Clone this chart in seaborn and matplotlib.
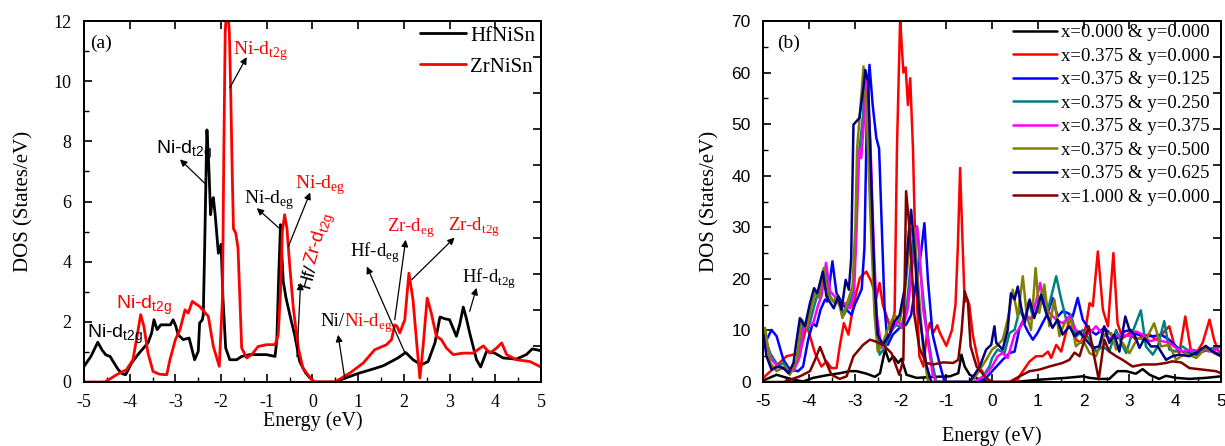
import math
import matplotlib
matplotlib.use("Agg")
import matplotlib.pyplot as plt
import pandas as pd
import seaborn as sns
from matplotlib.ticker import MultipleLocator

# ---------------- panel (a): total DOS of the two parent compounds ----------------
hfnisn_dos = [(-5.00, 0.52), (-4.85, 0.85), (-4.70, 1.32), (-4.60, 1.05), (-4.52, 0.90), (-4.43, 0.85),
              (-4.33, 0.60), (-4.25, 0.41), (-4.17, 0.28), (-4.09, 0.24), (-3.96, 0.63), (-3.80, 0.95),
              (-3.60, 1.30), (-3.52, 1.63), (-3.47, 2.07), (-3.40, 1.74), (-3.32, 1.90), (-3.20, 1.90),
              (-3.11, 1.90), (-3.05, 2.07), (-2.99, 1.85), (-2.94, 1.57), (-2.83, 1.41), (-2.70, 1.46),
              (-2.64, 1.10), (-2.58, 0.74), (-2.50, 1.02), (-2.47, 1.96), (-2.41, 2.07), (-2.39, 2.24),
              (-2.36, 4.45), (-2.32, 7.77), (-2.31, 8.38), (-2.27, 7.20), (-2.23, 5.56), (-2.20, 6.00),
              (-2.17, 6.13), (-2.13, 5.56), (-2.06, 4.28), (-2.00, 4.58), (-1.96, 2.79), (-1.90, 1.13),
              (-1.81, 0.74), (-1.66, 0.74), (-1.55, 0.85), (-1.37, 0.91), (-1.01, 0.91), (-0.82, 0.85),
              (-0.78, 1.40), (-0.74, 3.50), (-0.70, 5.23), (-0.67, 4.20), (-0.64, 3.34), (-0.58, 2.80),
              (-0.53, 2.46), (-0.46, 2.00), (-0.39, 1.57), (-0.28, 0.68), (-0.15, 0.30), (-0.06, 0.14),
              (0.05, 0.00), (0.49, 0.00), (0.75, 0.15), (1.03, 0.30), (1.30, 0.42), (1.55, 0.54),
              (1.87, 0.80), (2.04, 0.98), (2.20, 0.74), (2.38, 0.57), (2.53, 0.68), (2.68, 1.30),
              (2.79, 2.16), (2.90, 2.10), (3.00, 2.07), (3.15, 1.52), (3.22, 1.90), (3.30, 2.49),
              (3.37, 2.10), (3.44, 1.63), (3.59, 0.74), (3.68, 0.50), (3.81, 1.02), (3.99, 0.96),
              (4.17, 0.80), (4.46, 0.76), (4.68, 0.91), (4.81, 1.10), (4.97, 1.05), (5.00, 1.02)]

zrnisn_dos = [(-5.00, 0.00), (-4.54, 0.00), (-4.29, 0.24), (-4.07, 0.41), (-3.93, 0.74), (-3.84, 1.52),
              (-3.76, 2.24), (-3.69, 1.85), (-3.60, 0.96), (-3.49, 0.35), (-3.35, 0.26), (-3.19, 0.24),
              (-3.12, 0.74), (-3.00, 1.41), (-2.90, 1.74), (-2.79, 2.40), (-2.72, 2.29), (-2.63, 2.68),
              (-2.47, 2.51), (-2.28, 2.18), (-2.17, 1.18), (-2.04, 0.52), (-1.97, 2.79), (-1.94, 7.77),
              (-1.91, 11.65), (-1.87, 12.60), (-1.82, 11.65), (-1.79, 9.65), (-1.76, 7.20), (-1.73, 5.10),
              (-1.68, 4.95), (-1.63, 4.45), (-1.59, 2.79), (-1.55, 1.13), (-1.44, 0.80), (-1.33, 0.91),
              (-1.19, 1.18), (-1.01, 1.24), (-0.82, 1.24), (-0.75, 1.57), (-0.70, 3.00), (-0.66, 5.00),
              (-0.61, 5.56), (-0.56, 5.12), (-0.50, 3.90), (-0.42, 2.46), (-0.31, 1.13), (-0.21, 0.46),
              (-0.02, 0.08), (0.05, 0.00), (0.49, 0.00), (0.82, 0.30), (1.11, 0.63), (1.36, 1.07),
              (1.62, 1.24), (1.73, 1.41), (1.80, 1.90), (1.85, 1.85), (1.91, 1.63), (2.02, 2.07),
              (2.11, 3.62), (2.20, 2.73), (2.28, 1.30), (2.35, 0.13), (2.42, 1.18), (2.51, 2.79),
              (2.60, 2.29), (2.71, 1.52), (2.82, 1.41), (2.93, 1.13), (3.08, 0.91), (3.30, 0.96),
              (3.51, 0.96), (3.74, 1.20), (3.88, 0.96), (4.03, 1.13), (4.14, 1.30), (4.25, 0.91),
              (4.46, 0.74), (4.76, 0.68), (4.97, 0.52), (5.00, 0.50)]

# ---------------- panel (b): doped supercells ----------------
dos_x000_y000 = [(-5.0, 0.3), (-4.71, 1.4), (-4.56, 1.0), (-4.34, 0.45), (-4.13, 0.1), (-3.91, 0.8),
                 (-3.62, 1.3), (-3.33, 1.7), (-3.11, 2.1), (-2.96, 2.1), (-2.74, 1.6), (-2.56, 1.0),
                 (-2.45, 1.7), (-2.34, 6.3), (-2.25, 4.0), (-2.16, 5.0), (-2.05, 3.7), (-1.98, 4.5),
                 (-1.87, 1.4), (-1.65, 0.8), (-1.29, 1.0), (-0.92, 1.1), (-0.74, 1.7), (-0.67, 5.3),
                 (-0.60, 3.0), (-0.49, 1.4), (-0.27, 0.45), (0.0, 0.0), (0.49, 0.0), (1.03, 0.45),
                 (1.62, 0.8), (1.98, 1.1), (2.13, 0.8), (2.34, 0.6), (2.56, 0.6), (2.74, 2.1),
                 (2.93, 2.1), (3.14, 1.6), (3.29, 2.5), (3.44, 1.4), (3.65, 0.6), (3.80, 1.2),
                 (4.02, 0.8), (4.31, 0.6), (4.67, 0.8), (5.0, 1.1)]

dos_x375_y000 = [(-5.0, 0.8), (-4.49, 5.0), (-4.2, 5.6), (-4.05, 11.0), (-3.87, 5.6), (-3.73, 3.0),
                 (-3.62, 4.0), (-3.51, 2.7), (-3.40, 2.7), (-3.33, 6.9), (-3.24, 11.4), (-3.14, 9.2),
                 (-3.03, 15.0), (-2.89, 20.2), (-2.75, 21.4), (-2.64, 19.5), (-2.53, 16.3), (-2.46, 19.2),
                 (-2.39, 15.0), (-2.28, 12.1), (-2.21, 9.8), (-2.13, 13.7), (-2.08, 45.0), (-2.01, 70.5),
                 (-1.94, 60.0), (-1.89, 61.0), (-1.84, 53.7), (-1.79, 58.9), (-1.73, 45.3), (-1.66, 19.5),
                 (-1.59, 5.0), (-1.50, 3.0), (-1.43, 9.0), (-1.36, 11.5), (-1.29, 9.5), (-1.20, 11.0),
                 (-1.14, 9.5), (-1.0, 7.0), (-0.88, 10.0), (-0.80, 15.0), (-0.75, 26.0), (-0.70, 41.5),
                 (-0.65, 28.0), (-0.60, 15.5), (-0.54, 16.0), (-0.50, 15.0), (-0.42, 9.0), (-0.28, 3.0),
                 (-0.10, 0.3), (0.0, 0.0), (0.52, 0.0), (0.67, 2.1), (0.82, 4.0), (0.96, 5.0), (1.1, 5.0),
                 (1.22, 5.9), (1.29, 4.65), (1.40, 7.2), (1.51, 5.9), (1.62, 9.8), (1.72, 13.0), (1.83, 8.2),
                 (1.94, 7.6), (2.05, 10.8), (2.13, 15.3), (2.2, 14.7), (2.31, 25.3), (2.42, 14.0),
                 (2.53, 10.8), (2.65, 25.0), (2.74, 11.4), (2.85, 8.5), (3.0, 9.5), (3.14, 8.2), (3.29, 8.9),
                 (3.44, 9.2), (3.58, 8.2), (3.73, 9.5), (3.87, 10.8), (3.98, 7.2), (4.09, 5.6), (4.22, 12.7),
                 (4.34, 6.3), (4.49, 6.0), (4.6, 7.6), (4.75, 12.1), (4.85, 8.2), (4.96, 5.6), (5.0, 5.4)]

dos_x375_y125 = [(-5.0, 6.9), (-4.82, 10.1), (-4.71, 8.9), (-4.56, 4.3), (-4.42, 2.4), (-4.24, 2.1),
                 (-4.13, 3.0), (-4.02, 8.2), (-3.92, 11.4), (-3.84, 10.8), (-3.75, 14.0), (-3.65, 16.0),
                 (-3.60, 15.6), (-3.49, 23.4), (-3.40, 17.2), (-3.29, 15.6), (-3.18, 14.0), (-3.07, 13.0),
                 (-3.0, 15.0), (-2.85, 18.0), (-2.79, 26.0), (-2.74, 50.5), (-2.68, 61.5), (-2.61, 53.7),
                 (-2.53, 47.3), (-2.47, 45.3), (-2.42, 32.4), (-2.35, 14.3), (-2.28, 7.2), (-2.17, 9.2),
                 (-2.02, 10.5), (-1.88, 11.1), (-1.77, 13.0), (-1.66, 19.5), (-1.55, 25.3), (-1.48, 30.8),
                 (-1.40, 19.5), (-1.30, 9.2), (-1.16, 4.0), (-1.04, 0.0), (-0.30, 0.0), (-0.13, 0.8),
                 (0.0, 2.1), (0.23, 4.3), (0.38, 5.6), (0.49, 5.9), (0.6, 10.5), (0.67, 11.8), (0.78, 9.8),
                 (0.89, 8.2), (0.99, 9.5), (1.1, 11.4), (1.22, 13.4), (1.32, 16.3), (1.43, 12.7),
                 (1.54, 13.7), (1.65, 13.4), (1.76, 12.7), (1.87, 16.3), (1.98, 12.1), (2.13, 10.1),
                 (2.27, 9.2), (2.45, 10.5), (2.6, 9.2), (2.74, 8.5), (2.89, 9.8), (3.03, 10.1), (3.18, 9.2),
                 (3.36, 8.9), (3.54, 8.9), (3.69, 9.2), (3.87, 8.2), (4.02, 6.9), (4.16, 5.9), (4.31, 5.6),
                 (4.46, 5.3), (4.6, 5.9), (4.75, 6.3), (4.89, 5.6), (5.0, 5.0)]

dos_x375_y250 = [(-5.0, 9.5), (-4.85, 5.6), (-4.67, 3.0), (-4.56, 3.7), (-4.42, 1.7), (-4.24, 4.0),
                 (-4.13, 11.4), (-4.02, 10.1), (-3.91, 14.0), (-3.82, 16.9), (-3.75, 16.3), (-3.63, 21.8),
                 (-3.54, 16.6), (-3.44, 15.3), (-3.34, 16.0), (-3.24, 13.0), (-3.14, 14.7), (-3.03, 17.6),
                 (-2.97, 30.0), (-2.91, 44.0), (-2.82, 51.8), (-2.77, 59.9), (-2.69, 50.5), (-2.62, 31.1),
                 (-2.53, 11.8), (-2.46, 5.3), (-2.35, 6.6), (-2.21, 9.8), (-2.10, 11.1), (-1.99, 10.5),
                 (-1.86, 15.0), (-1.73, 27.3), (-1.64, 29.8), (-1.56, 20.8), (-1.44, 11.1), (-1.33, 4.7),
                 (-1.22, 0.0), (-0.35, 0.0), (-0.2, 1.1), (-0.06, 3.0), (0.0, 4.65), (0.12, 6.3),
                 (0.27, 5.6), (0.38, 9.5), (0.49, 10.1), (0.6, 14.0), (0.71, 12.1), (0.8, 15.6),
                 (0.89, 12.7), (0.99, 13.7), (1.1, 17.9), (1.22, 14.0), (1.32, 17.6), (1.40, 20.5),
                 (1.51, 16.0), (1.62, 12.1), (1.72, 13.0), (1.85, 8.9), (1.98, 10.1), (2.13, 8.2),
                 (2.27, 5.9), (2.42, 6.9), (2.56, 5.9), (2.71, 10.1), (2.82, 7.6), (2.93, 5.6), (3.06, 9.5),
                 (3.25, 13.9), (3.36, 6.9), (3.51, 5.3), (3.62, 6.9), (3.76, 11.8), (3.87, 6.3), (4.02, 5.9),
                 (4.16, 6.9), (4.31, 5.9), (4.49, 5.9), (4.67, 6.3), (4.85, 6.6), (5.0, 6.9)]

dos_x375_y375 = [(-5.0, 8.5), (-4.82, 4.3), (-4.64, 2.7), (-4.49, 2.4), (-4.34, 2.1), (-4.2, 5.0),
                 (-4.11, 10.8), (-4.02, 10.8), (-3.91, 11.4), (-3.80, 15.0), (-3.73, 16.6), (-3.63, 23.1),
                 (-3.54, 17.6), (-3.44, 16.6), (-3.33, 14.7), (-3.22, 15.3), (-3.11, 14.3), (-3.02, 16.6),
                 (-2.96, 30.0), (-2.91, 45.3), (-2.86, 43.4), (-2.79, 51.8), (-2.74, 58.9), (-2.66, 46.6),
                 (-2.59, 27.3), (-2.52, 13.0), (-2.42, 6.6), (-2.31, 8.2), (-2.17, 10.5), (-2.06, 11.8),
                 (-1.95, 10.5), (-1.84, 14.3), (-1.75, 22.1), (-1.64, 30.2), (-1.59, 26.0), (-1.51, 14.3),
                 (-1.40, 7.9), (-1.30, 1.4), (-1.22, 0.0), (-0.40, 0.0), (-0.2, 1.0), (0.0, 3.0),
                 (0.12, 5.0), (0.23, 5.6), (0.34, 4.65), (0.49, 9.2), (0.63, 10.8), (0.74, 13.0),
                 (0.85, 12.1), (0.96, 15.6), (1.05, 19.2), (1.14, 14.7), (1.25, 13.4), (1.40, 12.1),
                 (1.54, 11.4), (1.69, 12.7), (1.83, 10.1), (1.98, 8.9), (2.13, 9.5), (2.27, 10.8),
                 (2.42, 9.2), (2.56, 8.5), (2.71, 8.9), (2.85, 9.2), (3.0, 8.9), (3.14, 9.8), (3.29, 9.2),
                 (3.44, 7.9), (3.58, 8.2), (3.73, 7.9), (3.87, 7.6), (4.02, 6.6), (4.16, 5.9), (4.31, 6.3),
                 (4.46, 5.9), (4.6, 6.3), (4.75, 5.9), (4.89, 6.3), (5.0, 5.9)]

dos_x375_y500 = [(-5.0, 9.0), (-4.96, 10.5), (-4.85, 3.7), (-4.71, 2.1), (-4.53, 3.0), (-4.42, 1.4),
                 (-4.27, 4.3), (-4.16, 12.1), (-4.05, 10.5), (-3.94, 15.0), (-3.85, 17.6), (-3.78, 16.3),
                 (-3.68, 22.1), (-3.58, 16.9), (-3.47, 15.6), (-3.38, 16.6), (-3.27, 12.4), (-3.17, 15.3),
                 (-3.05, 18.5), (-2.99, 30.0), (-2.95, 45.3), (-2.88, 53.1), (-2.81, 61.2), (-2.74, 51.8),
                 (-2.66, 32.4), (-2.57, 13.0), (-2.50, 5.9), (-2.39, 7.6), (-2.24, 11.1), (-2.13, 13.0),
                 (-2.02, 11.8), (-1.91, 16.9), (-1.77, 29.8), (-1.70, 29.8), (-1.62, 19.5), (-1.51, 6.6),
                 (-1.40, 0.0), (-0.45, 0.0), (-0.34, 1.4), (-0.13, 4.3), (0.0, 6.3), (0.09, 6.9),
                 (0.23, 8.2), (0.34, 12.1), (0.45, 17.9), (0.56, 12.7), (0.67, 20.5), (0.76, 12.7),
                 (0.85, 10.1), (0.95, 22.1), (1.03, 13.4), (1.14, 18.9), (1.25, 10.8), (1.36, 16.0),
                 (1.47, 8.9), (1.58, 11.4), (1.72, 12.1), (1.83, 6.9), (1.98, 8.2), (2.13, 5.6), (2.27, 5.0),
                 (2.45, 9.2), (2.6, 9.5), (2.71, 6.3), (2.85, 7.6), (3.0, 5.6), (3.18, 8.5), (3.36, 8.2),
                 (3.54, 11.4), (3.69, 6.9), (3.87, 7.2), (4.02, 4.3), (4.23, 5.6), (4.46, 4.65), (4.67, 6.6),
                 (4.85, 5.6), (5.0, 5.0)]

dos_x375_y625 = [(-5.0, 9.2), (-4.93, 5.0), (-4.82, 2.4), (-4.67, 3.0), (-4.56, 2.7), (-4.45, 1.7),
                 (-4.34, 3.7), (-4.27, 8.2), (-4.2, 12.4), (-4.09, 10.8), (-3.98, 15.3), (-3.89, 18.2),
                 (-3.82, 17.2), (-3.70, 21.4), (-3.62, 16.6), (-3.53, 15.3), (-3.46, 14.3), (-3.36, 16.6),
                 (-3.29, 14.0), (-3.20, 19.8), (-3.13, 17.9), (-3.08, 24.0), (-3.03, 49.9), (-2.90, 51.2),
                 (-2.81, 57.3), (-2.77, 60.5), (-2.71, 58.3), (-2.64, 38.9), (-2.57, 19.5), (-2.50, 9.2),
                 (-2.39, 7.2), (-2.24, 9.2), (-2.13, 11.8), (-2.02, 13.0), (-1.91, 18.2), (-1.82, 29.2),
                 (-1.77, 33.4), (-1.70, 26.0), (-1.59, 13.0), (-1.44, 3.4), (-1.33, 0.0), (-0.50, 0.0),
                 (-0.41, 1.1), (-0.27, 3.0), (-0.13, 6.3), (-0.02, 7.2), (0.05, 10.8), (0.09, 7.6),
                 (0.23, 6.3), (0.34, 10.1), (0.41, 17.2), (0.49, 16.0), (0.56, 18.5), (0.63, 14.7),
                 (0.71, 11.4), (0.82, 16.0), (0.92, 12.4), (1.07, 16.9), (1.18, 13.4), (1.32, 10.5),
                 (1.43, 12.1), (1.54, 9.2), (1.69, 10.8), (1.8, 8.9), (1.91, 9.8), (2.05, 8.2), (2.2, 6.6),
                 (2.34, 6.9), (2.45, 10.8), (2.56, 7.6), (2.67, 9.2), (2.78, 5.9), (2.91, 12.7), (3.0, 10.1),
                 (3.11, 9.2), (3.22, 6.6), (3.33, 8.5), (3.47, 6.9), (3.62, 6.9), (3.80, 4.3), (3.94, 5.0),
                 (4.09, 5.3), (4.31, 5.0), (4.49, 5.9), (4.67, 7.0), (4.82, 5.9), (5.0, 5.0)]

dos_x1000_y000 = [(-5.0, 0.0), (-4.56, 0.0), (-4.2, 1.1), (-3.98, 2.1), (-3.87, 4.3), (-3.76, 6.8),
                  (-3.65, 4.3), (-3.51, 1.4), (-3.33, 0.6), (-3.18, 1.1), (-3.03, 5.0), (-2.82, 7.2),
                  (-2.67, 8.2), (-2.56, 7.9), (-2.38, 7.2), (-2.2, 5.6), (-2.03, 1.4), (-1.94, 4.3),
                  (-1.91, 20.0), (-1.88, 37.0), (-1.80, 29.2), (-1.70, 13.0), (-1.59, 6.6), (-1.44, 3.7),
                  (-1.29, 3.4), (-1.07, 3.8), (-0.85, 3.7), (-0.74, 4.3), (-0.67, 9.5), (-0.60, 17.6),
                  (-0.53, 15.6), (-0.47, 6.9), (-0.34, 3.0), (-0.13, 0.8), (0.0, 0.0), (0.38, 0.0),
                  (0.6, 1.1), (0.82, 2.1), (1.03, 2.4), (1.25, 3.0), (1.54, 3.7), (1.69, 4.3), (1.80, 5.7),
                  (1.91, 5.0), (2.02, 8.2), (2.11, 10.8), (2.2, 6.3), (2.33, 0.5), (2.45, 8.2), (2.56, 5.9),
                  (2.71, 5.0), (2.85, 4.3), (3.07, 3.0), (3.29, 3.4), (3.58, 3.4), (3.80, 3.7), (3.94, 4.0),
                  (4.13, 3.8), (4.31, 2.7), (4.6, 2.4), (4.89, 2.1), (5.0, 1.7)]

series_b = [
    ("x=0.000 & y=0.000", "#000000", dos_x000_y000),
    ("x=0.375 & y=0.000", "#FF0000", dos_x375_y000),
    ("x=0.375 & y=0.125", "#0000FF", dos_x375_y125),
    ("x=0.375 & y=0.250", "#008080", dos_x375_y250),
    ("x=0.375 & y=0.375", "#FF00FF", dos_x375_y375),
    ("x=0.375 & y=0.500", "#808000", dos_x375_y500),
    ("x=0.375 & y=0.625", "#000080", dos_x375_y625),
    ("x=1.000 & y=0.000", "#800000", dos_x1000_y000),
]

SERIF = "Liberation Serif"
SANS = "Liberation Sans"

sns.set_theme(style="ticks")
plt.rcParams.update({
    "font.family": [SERIF, "DejaVu Sans"],
    "axes.unicode_minus": False,
    "axes.linewidth": 1.3,
    "axes.edgecolor": "black",
    "xtick.color": "black",
    "ytick.color": "black",
    "text.color": "black",
    "axes.labelcolor": "black",
})

fig = plt.figure(figsize=(12.25, 4.46), dpi=100)
ax_a = fig.add_axes([0.0686, 0.1435, 0.3730, 0.8094])
ax_b = fig.add_axes([0.6231, 0.1435, 0.3736, 0.8094])


def to_frame(points):
    return pd.DataFrame(points, columns=["energy", "dos"])


def style_axes(ax, ymax, ymajor, yminor, tick_font, tick_size):
    ax.set_xlim(-5, 5)
    ax.set_ylim(0, ymax)
    ax.xaxis.set_major_locator(MultipleLocator(1))
    ax.xaxis.set_minor_locator(MultipleLocator(0.5))
    ax.yaxis.set_major_locator(MultipleLocator(ymajor))
    ax.yaxis.set_minor_locator(MultipleLocator(yminor))
    ax.tick_params(which="major", direction="in", length=6, width=1.2, top=True, right=False,
                   labelsize=tick_size, pad=9)
    ax.tick_params(which="minor", direction="in", length=3.5, width=1.0, top=False, right=False)
    for lab in ax.get_xticklabels() + ax.get_yticklabels():
        lab.set_fontfamily(tick_font)
    # right-hand frame carries its own evenly spaced ticks
    twin = ax.twinx()
    twin.set_ylim(0, 10)
    twin.yaxis.set_major_locator(MultipleLocator(1))
    twin.tick_params(direction="in", length=6, width=1.2, labelright=False, right=True, left=False)
    twin.grid(False)
    return twin


# ---------------- panel (a) ----------------
sns.lineplot(data=to_frame(hfnisn_dos), x="energy", y="dos", ax=ax_a, color="black",
             linewidth=2.0, label="HfNiSn", estimator=None, sort=False)
sns.lineplot(data=to_frame(zrnisn_dos), x="energy", y="dos", ax=ax_a, color="#FF0000",
             linewidth=2.0, label="ZrNiSn", estimator=None, sort=False)
twin_a = style_axes(ax_a, 12, 2, 1, SERIF, 13)
ax_a.set_xlabel("Energy (eV)", fontsize=14.5, fontfamily=SERIF, labelpad=0)
ax_a.set_ylabel("DOS (States/eV)", fontsize=15, fontfamily=SERIF, labelpad=14.5)
ax_a.legend(loc="upper right", bbox_to_anchor=(1.006, 1.009), frameon=False,
            prop={"family": SERIF, "size": 15}, handlelength=2.2, handletextpad=0.2,
            labelspacing=0.55, borderaxespad=0.0)
ax_a.text(-4.87, 11.27, "(a)", fontsize=14, fontfamily=SERIF, va="center", ha="left")

arrow_kw = dict(arrowstyle="-|>", color="black", lw=0.9, mutation_scale=10, shrinkA=0, shrinkB=0)


def arrow(ax, tail, head):
    ax.annotate("", xy=head, xytext=tail, arrowprops=arrow_kw)


def sub(s):
    return r"$_{\mathregular{%s}}$" % s


ax_a.text(-1.74, 10.87, "Ni-d" + sub("t2g"), color="#FF0000", fontsize=14, fontfamily=SERIF)
arrow(ax_a, (-1.81, 9.78), (-1.44, 10.8))
ax_a.text(-3.43, 7.59, "Ni-d" + sub("t2g"), color="black", fontsize=14, fontfamily=SANS)
arrow(ax_a, (-2.32, 6.55), (-2.90, 7.40))
ax_a.text(-1.50, 5.92, "Ni-d" + sub("eg"), color="black", fontsize=14, fontfamily=SERIF)
arrow(ax_a, (-0.72, 5.10), (-1.22, 5.78))
ax_a.text(-0.39, 6.42, "Ni-d" + sub("eg"), color="#FF0000", fontsize=14, fontfamily=SERIF)
arrow(ax_a, (-0.53, 4.50), (-0.05, 6.30))
ax_a.text(0.83, 4.15, "Hf-d" + sub("eg"), color="black", fontsize=13.5, fontfamily=SERIF)
arrow(ax_a, (2.02, 0.98), (1.19, 3.84))
ax_a.text(1.62, 4.98, "Zr-d" + sub("eg"), color="#FF0000", fontsize=13.5, fontfamily=SERIF)
arrow(ax_a, (1.80, 2.07), (2.04, 4.73))
ax_a.text(2.96, 5.02, "Zr-d" + sub("t2g"), color="#FF0000", fontsize=13.5, fontfamily=SERIF)
arrow(ax_a, (2.17, 3.40), (3.11, 4.80))
ax_a.text(3.28, 3.31, "Hf-d" + sub("t2g"), color="black", fontsize=13.5, fontfamily=SERIF)
arrow(ax_a, (3.44, 2.35), (3.59, 3.13))
ax_a.text(-4.29, 2.42, "Ni-d" + sub("t2g"), color="#FF0000", fontsize=14, fontfamily=SANS)
ax_a.text(-4.94, 1.46, "Ni-d" + sub("t2g"), color="black", fontsize=14, fontfamily=SANS)
arrow(ax_a, (0.71, 0.08), (0.56, 1.57))
arrow(ax_a, (-0.34, 0.84), (-0.26, 3.30))

# two-colour labels: measure the black prefix, then continue in red
fig.canvas.draw()
renderer = fig.canvas.get_renderer()


def two_colour(ax, xy, first, second, size, family, angle=0.0):
    probe = ax.text(0, 0, first, fontsize=size, fontfamily=family)
    width_px = probe.get_window_extent(renderer).width
    probe.remove()
    width_pt = width_px * 72.0 / fig.dpi
    ax.annotate(first, xy=xy, xytext=(0, 0), textcoords="offset points", color="black",
                fontsize=size, fontfamily=family, rotation=angle, rotation_mode="anchor",
                ha="left", va="baseline")
    dx = width_pt * math.cos(math.radians(angle))
    dy = width_pt * math.sin(math.radians(angle))
    ax.annotate(second, xy=xy, xytext=(dx, dy), textcoords="offset points", color="#FF0000",
                fontsize=size, fontfamily=family, rotation=angle, rotation_mode="anchor",
                ha="left", va="baseline")


two_colour(ax_a, (0.17, 1.85), "Ni/", "Ni-d" + sub("eg"), 13.5, SERIF)
two_colour(ax_a, (-0.06, 3.10), "Hf/", "Zr-d" + sub("t2g"), 13.5, SANS, angle=74)

# ---------------- panel (b) ----------------
for label, colour, pts in series_b:
    sns.lineplot(data=to_frame(pts), x="energy", y="dos", ax=ax_b, color=colour, linewidth=1.8,
                 label=label, estimator=None, sort=False)
twin_b = style_axes(ax_b, 70, 10, 5, SANS, 12.5)
ax_b.set_xlabel("Energy (eV)", fontsize=14.5, fontfamily=SERIF, labelpad=12)
ax_b.set_ylabel("DOS (States/eV)", fontsize=15, fontfamily=SERIF, labelpad=8.5)
ax_b.legend(loc="upper right", bbox_to_anchor=(0.999, 1.022), frameon=False,
            prop={"family": SERIF, "size": 13.5}, handlelength=2.35, handletextpad=0.2,
            labelspacing=0.34, borderaxespad=0.2)
ax_b.text(-4.69, 65.7, "(b)", fontsize=14, fontfamily=SERIF, va="center", ha="left")

fig.savefig("out.png", dpi=100)
